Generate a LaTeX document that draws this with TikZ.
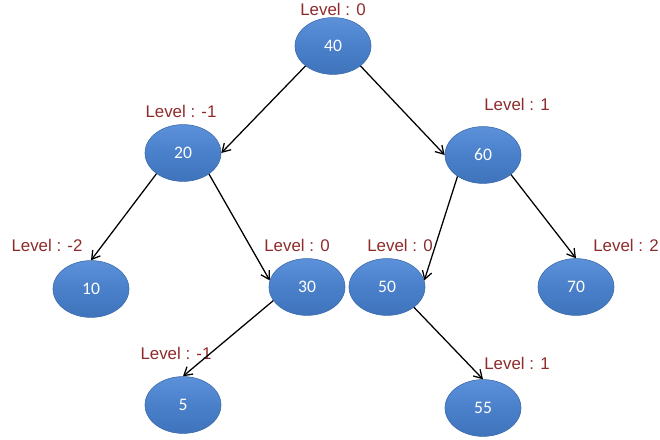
\documentclass[tikz,border=0pt]{standalone}
\usepackage{fontspec}
\setmainfont{Liberation Sans}
\newfontfamily\numfont{Carlito}
\usetikzlibrary{arrows.meta,shapes.geometric}
\definecolor{ballblue}{HTML}{3F74BC}
\definecolor{ballmid}{HTML}{4A80CA}
\definecolor{balltop}{HTML}{5C91DA}
\definecolor{ballrim}{HTML}{3A69A8}
\definecolor{levelred}{HTML}{8E2B2B}
\tikzset{ball/.style={ellipse,draw=ballrim,thin,top color=balltop,bottom color=ballblue,middle color=ballmid,minimum width=1.9cm,minimum height=1.42cm,inner sep=0pt,text=white,font=\numfont\fontsize{12.5}{14}\selectfont},lvl/.style={text=levelred,font=\fontsize{12}{14}\selectfont,inner sep=0pt},arr/.style={-{Straight Barb[length=2mm,width=2.4mm]},line width=0.9pt,draw=black}}

\begin{document}
\begin{tikzpicture}[x=0.025cm,y=0.025cm]
\useasboundingbox (0,0) rectangle (660,440);
\node[ball] (n40) at (333,394) {40};
\node[ball] (n20) at (183,287) {20};
\node[ball] (n60) at (483,285) {60};
\node[ball] (n10) at (91,151) {10};
\node[ball] (n30) at (307,153) {30};
\node[ball] (n50) at (387,153) {50};
\node[ball] (n70) at (576,153) {70};
\node[ball] (n5) at (183,35) {5};
\node[ball] (n55) at (483,32) {55};
\node[lvl] (l40) at (333,431) {Level : 0};
\node[lvl] (l20) at (181,329) {Level : -1};
\node[lvl] (l60) at (517,336) {Level : 1};
\node[lvl] (l10) at (47,195) {Level : -2};
\node[lvl] (l30) at (297,195) {Level : 0};
\node[lvl] (l50) at (400,195) {Level : 0};
\node[lvl] (l70) at (626,195) {Level : 2};
\node[lvl] (l5) at (176,87) {Level : -1};
\node[lvl] (l55) at (517,77) {Level : 1};
\draw[arr] (n40.216)--(n20.east);
\draw[arr] (n40.324)--(n60.west);
\draw[arr] (n20.218)--(n10.north);
\draw[arr] (n20.321)--(n30.170);
\draw[arr] (n60.220)--(n50.10);
\draw[arr] (n60.325)--(n70.north);
\draw[arr] (n30.202)--(n5.north);
\draw[arr] (n50.323)--(n55.north);
\end{tikzpicture}
\end{document}
